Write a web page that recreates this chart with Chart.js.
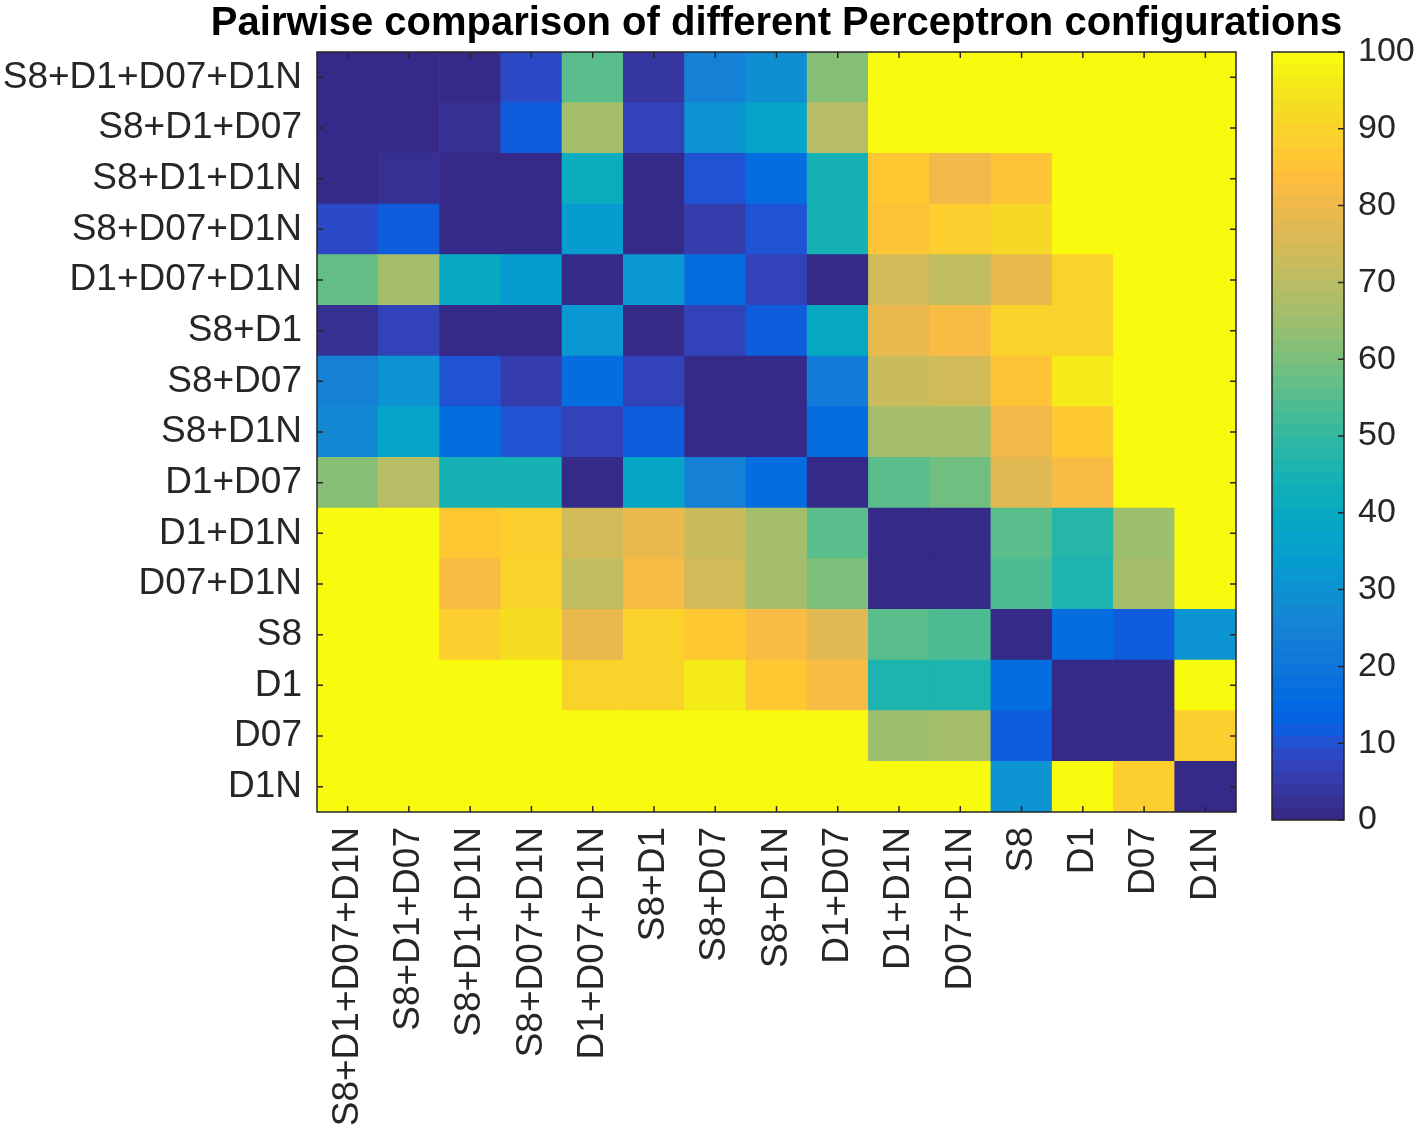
<!DOCTYPE html>
<html>
<head>
<meta charset="utf-8">
<title>Pairwise comparison of different Perceptron configurations</title>
<script src="https://cdn.jsdelivr.net/npm/chart.js@4.4.1/dist/chart.umd.min.js"></script>
<style>
  body { margin: 0; background: #fff; }
  #wrap { position: relative; width: 1418px; height: 1130px; }
  #main { position: absolute; left: 0; top: 0; width: 1418px; height: 1130px; }
  #bar { position: absolute; left: 1240px; top: 0; width: 178px; height: 1130px; }
</style>
</head>
<body>
<div id="wrap">
  <div id="main"><canvas id="heat"></canvas></div>
  <div id="bar"><canvas id="cbar"></canvas></div>
</div>
<script>
// configurations, same order on both axes (rows top to bottom, columns left to right)
var configs = ["S8+D1+D07+D1N", "S8+D1+D07", "S8+D1+D1N", "S8+D07+D1N", "D1+D07+D1N",
               "S8+D1", "S8+D07", "S8+D1N", "D1+D07", "D1+D1N", "D07+D1N",
               "S8", "D1", "D07", "D1N"];

// one row of the matrix per configuration
var rowS8D1D07D1N = [0, 0, 1, 8.5, 56, 3.5, 24, 29, 61.5, 100, 100, 100, 100, 100, 100];
var rowS8D1D07    = [0, 0, 2.5, 11.5, 66, 7, 31, 36.5, 69.5, 100, 100, 100, 100, 100, 100];
var rowS8D1D1N    = [0.5, 2.5, 0, 0.5, 42, 0.5, 10, 16, 44.5, 86, 81, 85, 100, 100, 100];
var rowS8D07D1N   = [8.5, 11.5, 0, 0, 33.5, 0, 5, 10, 44, 85, 89, 92, 100, 100, 100];
var rowD1D07D1N   = [56.5, 66, 40.5, 33.5, 0, 32.5, 16, 7, 0, 74.5, 71, 78.5, 90.5, 100, 100];
var rowS8D1       = [2.5, 7, 0, 0, 32.5, 0, 7.5, 11.5, 39.5, 78.5, 82, 90, 90, 100, 100];
var rowS8D07      = [24, 31, 10, 5, 16, 7, 0, 0, 23, 72.5, 74.5, 85.5, 96, 100, 100];
var rowS8D1N      = [28, 36.5, 16, 10, 7, 11.5, 0, 0, 16, 66, 66, 81, 86, 100, 100];
var rowD1D07      = [61.5, 69.5, 44, 44, 0, 38, 24, 16, 0, 56, 59, 77.5, 82, 100, 100];
var rowD1D1N      = [100, 100, 86, 87.5, 74.5, 79, 72.5, 66, 56, 0, 0, 55.5, 48, 65, 100];
var rowD07D1N     = [100, 100, 82, 90.5, 71, 82, 74.5, 66, 60, 0, 0, 54, 46.5, 66, 100];
var rowS8         = [100, 100, 87.5, 93, 79, 90.5, 86, 82, 77.5, 55.5, 54, 0, 16, 11.5, 31];
var rowD1         = [100, 100, 100, 100, 90.5, 90, 96.5, 86, 82, 46.5, 46.5, 16, 0, 0, 100];
var rowD07        = [100, 100, 100, 100, 100, 100, 100, 100, 100, 65, 66, 11.5, 0, 0, 89];
var rowD1N        = [100, 100, 100, 100, 100, 100, 100, 100, 100, 100, 100, 31, 100, 89, 0];

var rows = [rowS8D1D07D1N, rowS8D1D07, rowS8D1D1N, rowS8D07D1N, rowD1D07D1N, rowS8D1,
            rowS8D07, rowS8D1N, rowD1D07, rowD1D1N, rowD07D1N, rowS8, rowD1, rowD07, rowD1N];

var colorMin = 0;
var colorMax = 100;
var colorbarStep = 10;

var titleText = "Pairwise comparison of different Perceptron configurations";

// parula, 64 entries
var parulaMap = [
  [53,42,135],[54,48,147],[54,54,160],[53,61,173],[50,67,186],[44,74,199],[32,83,212],[15,92,221],
  [3,99,225],[2,104,225],[4,109,224],[8,113,222],[13,117,220],[16,121,218],[18,125,216],[20,129,214],
  [20,133,212],[19,137,211],[16,142,210],[12,147,210],[9,152,209],[7,156,207],[6,160,205],[6,164,202],
  [6,167,198],[7,169,194],[10,172,190],[15,174,185],[21,177,180],[29,179,175],[37,181,169],[46,183,164],
  [56,185,158],[66,187,152],[77,188,146],[89,189,140],[101,190,134],[113,191,128],[124,191,123],[135,191,119],
  [146,191,115],[156,191,111],[165,190,107],[174,190,103],[183,189,100],[192,188,96],[200,188,93],[209,187,89],
  [217,186,86],[225,185,82],[233,185,78],[241,185,74],[248,187,68],[253,190,61],[255,195,55],[254,200,50],
  [252,206,46],[250,211,42],[247,216,38],[245,222,33],[245,228,29],[245,235,24],[246,243,19],[249,251,14]
];

function rgbOf(c) {
  return "rgb(" + c[0] + "," + c[1] + "," + c[2] + ")";
}

function parula(v) {
  var i = Math.floor((v - colorMin) / (colorMax - colorMin) * parulaMap.length);
  if (i < 0) i = 0;
  if (i > parulaMap.length - 1) i = parulaMap.length - 1;
  return rgbOf(parulaMap[i]);
}

var fontFamily = "'Liberation Sans', Arial, Helvetica, sans-serif";
var axisColor = "#262626";

// inward ticks, box and the title centred over the plot (chart.js title squeezes it)
var heatBox = {
  id: "heatBox",
  afterDatasetsDraw: function(chart) {
    var a = chart.chartArea;
    var ctx = chart.ctx;
    var xs = chart.scales.x;
    var ys = chart.scales.y;
    ctx.save();
    ctx.strokeStyle = axisColor;
    ctx.lineWidth = 1.5;
    ctx.strokeRect(a.left, a.top, a.right - a.left, a.bottom - a.top);
    ctx.beginPath();
    for (var i = 0; i < xs.ticks.length; i++) {
      var x = xs.getPixelForTick(i);
      ctx.moveTo(x, a.top); ctx.lineTo(x, a.top + 6);
      ctx.moveTo(x, a.bottom); ctx.lineTo(x, a.bottom - 6);
    }
    for (var j = 0; j < ys.ticks.length; j++) {
      var y = ys.getPixelForTick(j);
      ctx.moveTo(a.left, y); ctx.lineTo(a.left + 6, y);
      ctx.moveTo(a.right, y); ctx.lineTo(a.right - 6, y);
    }
    ctx.stroke();

    ctx.fillStyle = "#000";
    ctx.font = "bold 40px " + fontFamily;
    ctx.textAlign = "center";
    ctx.textBaseline = "middle";
    ctx.fillText(titleText, (a.left + a.right) / 2, 24);
    ctx.restore();
  }
};

var datasets = [];
// stacked from the bottom row up
for (var r = rows.length - 1; r >= 0; r--) {
  datasets.push({
    label: configs[r],
    data: configs.map(function() { return 1; }),
    backgroundColor: rows[r].map(parula),
    borderWidth: 0,
    barPercentage: 1,
    categoryPercentage: 1
  });
}

new Chart(document.getElementById("heat"), {
  type: "bar",
  data: { labels: configs, datasets: datasets },
  options: {
    responsive: true,
    maintainAspectRatio: false,
    animation: false,
    events: [],
    layout: { padding: { left: 0, top: 52, right: 182, bottom: 0 } },
    plugins: {
      legend: { display: false },
      tooltip: { enabled: false },
      title: { display: false }
    },
    scales: {
      x: {
        stacked: true,
        grid: { display: false, drawTicks: false },
        border: { display: false },
        ticks: {
          autoSkip: false,
          minRotation: 90,
          maxRotation: 90,
          padding: 15,
          color: axisColor,
          font: { family: fontFamily, size: 37 }
        },
        afterFit: function(s) { s.height = 318; }
      },
      y: {
        stacked: true,
        min: 0,
        max: configs.length,
        grid: { display: false, drawTicks: false },
        border: { display: false },
        afterBuildTicks: function(s) {
          s.ticks = configs.map(function(c, i) { return { value: i + 0.5 }; });
        },
        ticks: {
          padding: 15,
          color: axisColor,
          font: { family: fontFamily, size: 37 },
          callback: function(value) { return configs[configs.length - 1 - Math.floor(value)]; }
        },
        afterFit: function(s) { s.width = 317; }
      }
    }
  },
  plugins: [heatBox]
});

// colorbar
var cbarBox = {
  id: "cbarBox",
  afterDatasetsDraw: function(chart) {
    var a = chart.chartArea;
    var ctx = chart.ctx;
    var ys = chart.scales.y;
    ctx.save();
    ctx.strokeStyle = axisColor;
    ctx.lineWidth = 1.5;
    ctx.strokeRect(a.left, a.top, a.right - a.left, a.bottom - a.top);
    ctx.beginPath();
    for (var j = 0; j < ys.ticks.length; j++) {
      var y = ys.getPixelForTick(j);
      ctx.moveTo(a.right, y); ctx.lineTo(a.right - 6, y);
    }
    ctx.stroke();
    ctx.restore();
  }
};

new Chart(document.getElementById("cbar"), {
  type: "bar",
  data: {
    labels: [""],
    datasets: [{
      data: [[colorMin, colorMax]],
      borderWidth: 0,
      barPercentage: 1,
      categoryPercentage: 1,
      backgroundColor: function(context) {
        var area = context.chart.chartArea;
        if (!area) return parula(colorMax);
        var g = context.chart.ctx.createLinearGradient(0, area.bottom, 0, area.top);
        var n = parulaMap.length;
        for (var i = 0; i < n; i++) {
          g.addColorStop(i / n, rgbOf(parulaMap[i]));
          g.addColorStop((i + 1) / n, rgbOf(parulaMap[i]));
        }
        return g;
      }
    }]
  },
  options: {
    responsive: true,
    maintainAspectRatio: false,
    animation: false,
    events: [],
    layout: { padding: { left: 32, top: 52, right: 0, bottom: 310 } },
    plugins: { legend: { display: false }, tooltip: { enabled: false } },
    scales: {
      x: { display: false },
      y: {
        position: "right",
        min: colorMin,
        max: colorMax,
        grid: { display: false, drawTicks: false },
        border: { display: false },
        ticks: {
          stepSize: colorbarStep,
          padding: 14,
          color: axisColor,
          font: { family: fontFamily, size: 34 }
        },
        afterFit: function(s) { s.width = 74; }
      }
    }
  },
  plugins: [cbarBox]
});
</script>
</body>
</html>
